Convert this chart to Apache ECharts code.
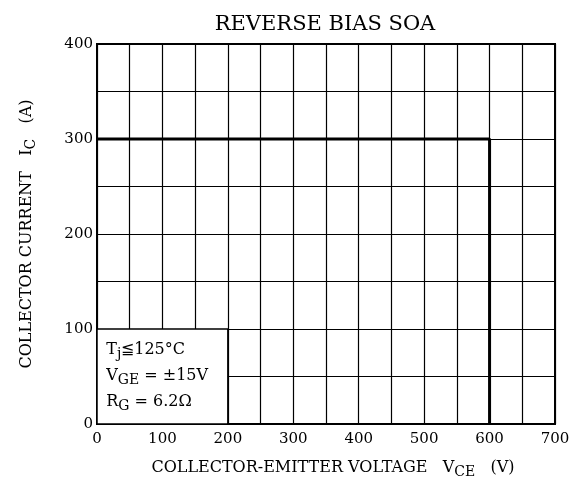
<!DOCTYPE html>
<html>
<head>
<meta charset="utf-8">
<script src="https://cdn.jsdelivr.net/npm/echarts@6/dist/echarts.min.js"></script>
<style>
  html, body { margin: 0; padding: 0; background: #fff; }
  #chart { width: 579px; height: 488px; }
</style>
</head>
<body>
<div id="chart"></div>
<script>
// reverse bias SOA boundary (VCE, IC)
const soaVce = [0, 600, 600]
const soaIc = [300, 300, 0]
const xRange = [0, 700]
const yRange = [0, 400]
const condBox = [[0, 0], [200, 100]]
const condLines = ['T{sub|j}≦125°C', 'V{sub|GE} = ±15V', 'R{sub|G} = 6.2Ω']

const font = '"DejaVu Serif", "Liberation Serif", serif'
const chart = echarts.init(document.getElementById('chart'))

chart.setOption({
  backgroundColor: '#fff',
  animation: false,
  title: {
    text: 'REVERSE BIAS SOA',
    left: 320,
    textAlign: 'center',
    top: 9,
    textStyle: { fontFamily: font, fontSize: 21, fontWeight: 'normal', color: '#000' }
  },
  grid: {
    left: 97, right: 24, top: 44, bottom: 64,
    show: true, borderColor: '#000', borderWidth: 2, backgroundColor: '#fff'
  },
  xAxis: {
    type: 'value',
    min: xRange[0],
    max: xRange[1],
    interval: 50,
    name: 'COLLECTOR-EMITTER VOLTAGE   V{sub|CE}   (V)',
    nameLocation: 'middle',
    nameGap: 33,
    nameTextStyle: {
      fontFamily: font, fontSize: 16, color: '#000', padding: [0, 0, 0, 14],
      rich: { sub: { fontFamily: font, fontSize: 14, color: '#000', padding: [8, 0, 0, 0] } }
    },
    axisLine: { lineStyle: { color: '#000', width: 2 } },
    axisTick: { show: false },
    axisLabel: {
      fontFamily: font, fontSize: 15, color: '#000', margin: 8,
      formatter: v => (v % 100 === 0 ? v : '')
    },
    splitLine: { lineStyle: { color: '#000', width: 1.2 } }
  },
  yAxis: {
    type: 'value',
    min: yRange[0],
    max: yRange[1],
    interval: 50,
    name: 'COLLECTOR CURRENT   I{sub|C}   (A)',
    nameLocation: 'middle',
    nameRotate: 90,
    nameGap: 59,
    nameTextStyle: {
      fontFamily: font, fontSize: 16, color: '#000',
      rich: { sub: { fontFamily: font, fontSize: 14, color: '#000', padding: [8, 0, 0, 0] } }
    },
    axisLine: { show: true, lineStyle: { color: '#000', width: 2 } },
    axisTick: { show: false },
    axisLabel: {
      fontFamily: font, fontSize: 15, color: '#000', margin: 4,
      formatter: v => (v % 100 === 0 ? v : '')
    },
    splitLine: { lineStyle: { color: '#000', width: 1.2 } }
  },
  series: [{
    type: 'line',
    data: soaVce.map((v, i) => [v, soaIc[i]]),
    symbol: 'none',
    lineStyle: { color: '#000', width: 3 },
    markArea: {
      silent: true,
      itemStyle: { color: '#fff', borderColor: '#000', borderWidth: 1.5 },
      label: {
        show: true,
        position: [10, 9],
        formatter: condLines.join('\n'),
        fontFamily: font,
        fontSize: 16,
        lineHeight: 26,
        color: '#000',
        rich: {
          sub: { fontFamily: font, fontSize: 14, color: '#000', padding: [9, 0, 0, 0] }
        }
      },
      data: [[{ coord: condBox[0] }, { coord: condBox[1] }]]
    }
  }]
})
</script>
</body>
</html>
